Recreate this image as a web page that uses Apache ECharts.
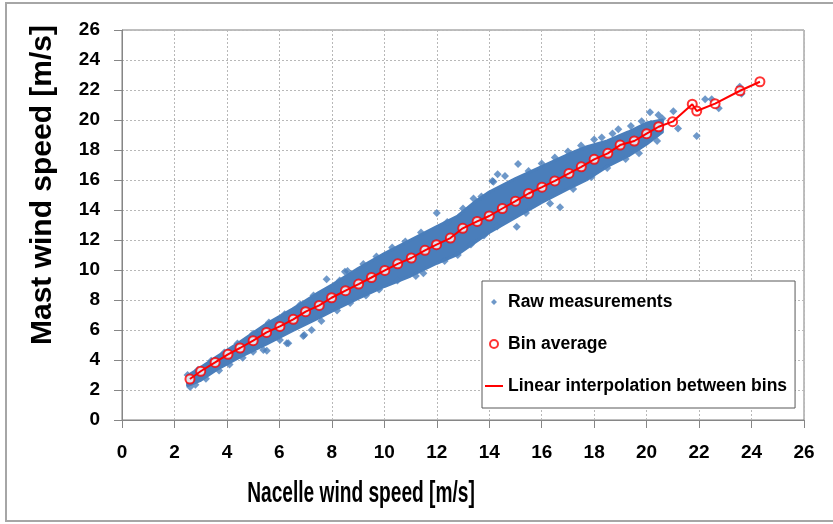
<!DOCTYPE html>
<html>
<head>
<meta charset="utf-8">
<script src="https://cdn.jsdelivr.net/npm/echarts@6/dist/echarts.min.js"></script>
<style>html,body{margin:0;padding:0;background:#fff}#c{width:833px;height:524px}</style>
</head>
<body>
<div id="c"></div>
<script>
// Axis ticks
const xTicks = [0,2,4,6,8,10,12,14,16,18,20,22,24,26];
const yTicks = [0,2,4,6,8,10,12,14,16,18,20,22,24,26];

// Bin averages (also the vertices of the linear interpolation)
const binX = [2.59,3.0,3.55,4.04,4.5,5.0,5.51,6.02,6.53,7.0,7.52,7.99,8.52,9.02,9.51,10.02,10.51,11.03,11.55,11.99,12.52,12.99,13.54,14.0,14.5,15.0,15.5,16.01,16.5,17.04,17.51,18.0,18.52,18.99,19.53,20.0,20.46,20.99,21.74,21.91,22.61,23.56,24.32];
const binY = [2.73,3.25,3.84,4.38,4.8,5.29,5.84,6.24,6.71,7.22,7.64,8.15,8.62,9.06,9.5,9.97,10.41,10.8,11.31,11.69,12.13,12.78,13.24,13.6,14.1,14.59,15.1,15.52,15.94,16.44,16.88,17.38,17.78,18.33,18.6,19.09,19.55,19.89,21.05,20.6,21.09,21.95,22.55];

const cloudX     = [2.5, 3.0, 3.6, 4.5, 5.5, 6.5, 7.5, 8.0, 9.0, 10.0, 11.0, 12.0, 12.8, 13.5, 14.0, 15.0, 16.0, 17.0, 17.7, 18.5, 19.3, 20.0, 20.6];
const cloudUpper = [2.95,3.5, 4.2, 5.2, 6.4, 7.4, 8.5, 9.0, 10.1,11.1,12.0,12.9,13.6,14.6,15.2,16.1,16.9,17.7,18.2,18.6,19.2,19.8,20.0];
const cloudLower = [2.3, 2.65,3.35,4.2, 5.05,5.95,6.8, 7.25,8.1, 8.9, 9.6, 10.45,11.05,11.9,12.5,13.5,14.5,15.4,16.0,16.9,17.6,18.4,19.2];

// Individual raw measurements at the fringe of the cloud
const rawX = [2.6,2.8,3.2,3.7,4.1,4.6,5.0,5.39,5.52,6.02,6.28,6.34,6.91,6.95,7.23,7.6,8.2,8.7,9.3,9.8,10.5,11.2,11.49,12.3,12.8,13.3,13.8,14.3,15.05,15.4,16.32,16.7,17.2,17.9,18.5,19.2,19.71,20.4,21.2,21.91,
  2.5,2.9,3.4,3.9,4.4,5.0,5.6,6.2,6.8,7.3,7.8,8.3,8.5,8.6,9.2,9.7,10.3,10.8,11.4,12.0,12.4,13.0,13.4,13.7,14.12,14.16,14.32,14.6,15.1,15.5,16.0,16.5,17.0,17.5,18.0,18.29,18.7,18.92,19.4,19.81,20.13,20.45,20.6,21.02,22.23,22.48,22.75,23.55,23.62];
const rawY = [2.2,2.35,2.75,3.3,3.7,4.15,4.55,4.67,4.62,5.33,5.11,5.11,5.6,5.67,6.0,6.6,7.3,7.8,8.3,8.7,9.3,9.6,9.78,10.6,11.0,11.7,12.3,12.9,12.89,13.8,14.44,14.18,15.4,16.2,16.8,17.4,17.78,18.6,19.44,18.93,
  3.0,3.35,3.95,4.5,5.1,5.75,6.5,7.05,7.7,8.3,9.38,9.3,9.89,9.93,10.4,10.9,11.5,11.9,12.5,13.8,13.2,14.1,14.77,14.9,15.93,15.89,16.38,16.27,17.06,16.6,17.1,17.5,17.9,18.3,18.7,18.84,19.1,19.39,19.6,19.91,20.51,20.33,20.1,20.58,21.38,21.38,20.78,22.22,21.75];

const blue = '#4a7ebb';
const red = '#ff0000';
const font = "'Liberation Sans', Arial, sans-serif";

const chart = echarts.init(document.getElementById('c'), null, {renderer: 'canvas'});

const rawData = rawX.map((x, i) => [x, rawY[i]]);
const binData = binX.map((x, i) => [x, binY[i]]);
const cloudData = cloudX.map((x, i) => [x, cloudUpper[i], cloudLower[i]]);

chart.setOption({
  animation: false,
  backgroundColor: '#fff',
  graphic: [
    {type: 'rect', z: -10, silent: true, shape: {x: 6, y: 3, width: 840, height: 518},
     style: {fill: 'none', stroke: '#a6a6a6', lineWidth: 2}},
    {type: 'text', x: 43, y: 185, rotation: Math.PI / 2, silent: true,
     style: {text: 'Mast wind speed [m/s]', fill: '#000', font: "bold 30px " + font,
             textAlign: 'center', textVerticalAlign: 'middle'}},
    {type: 'text', x: 361, y: 494, scaleX: 0.66, silent: true,
     style: {text: 'Nacelle wind speed [m/s]', fill: '#000', font: "bold 29px " + font,
             textAlign: 'center', textVerticalAlign: 'middle'}}
  ],
  grid: {left: 122, right: 29, top: 30, bottom: 104, show: true, borderColor: '#7f7f7f', borderWidth: 1, backgroundColor: 'transparent'},
  legend: {
    orient: 'vertical', left: 482, top: 281,
    padding: [11, 8, 12, 2],
    itemWidth: 18, itemHeight: 8, itemGap: 22,
    backgroundColor: '#fff', borderColor: '#595959', borderWidth: 1,
    textStyle: {fontFamily: font, fontWeight: 'bold', fontSize: 17.5, color: '#000', lineHeight: 20},
    data: [
      {name: 'Raw measurements', icon: 'path://M0,4L0,4.01M18,4L18,4.01M0,0L0,0.01M18,8L18,8.01M9,1L12,4L9,7L6,4Z'},
      {name: 'Bin average'},
      {name: 'Linear interpolation between bins'}
    ]
  },
  xAxis: {
    type: 'value', min: 0, max: 26, interval: 2,
    axisLine: {show: true, lineStyle: {color: '#868686', width: 1}},
    axisTick: {show: true, length: 8, lineStyle: {color: '#868686'}},
    axisLabel: {margin: 23, color: '#000', fontWeight: 'bold', fontSize: 19, fontFamily: font,
                formatter: v => xTicks.includes(v) ? String(v) : ''},
    splitLine: {show: true, lineStyle: {color: '#b8b8b8', type: [2, 2], width: 1}}
  },
  yAxis: {
    type: 'value', min: 0, max: 26, interval: 2,
    axisLine: {show: true, lineStyle: {color: '#868686', width: 1}},
    axisTick: {show: true, length: 8, lineStyle: {color: '#868686'}},
    axisLabel: {margin: 22, color: '#000', fontWeight: 'bold', fontSize: 19, fontFamily: font,
                formatter: v => yTicks.includes(v) ? String(v) : ''},
    splitLine: {show: true, lineStyle: {color: '#b8b8b8', type: [2, 2], width: 1}}
  },
  series: [
    {
      name: 'Raw measurements', type: 'scatter', data: rawData,
      symbol: 'diamond', symbolSize: 8, symbolKeepAspect: true,
      itemStyle: {color: blue}, z: 3
    },
    {
      name: 'Raw measurements', type: 'custom', data: cloudData, z: 2,
      encode: {x: 0, y: [1, 2]},
      renderItem: function (params, api) {
        if (params.dataIndex !== 0) return null;
        const pts = [];
        for (let i = 0; i < cloudX.length; i++) pts.push(api.coord([cloudX[i], cloudUpper[i]]));
        for (let i = cloudX.length - 1; i >= 0; i--) pts.push(api.coord([cloudX[i], cloudLower[i]]));
        return {type: 'polygon', shape: {points: pts}, style: {fill: blue, stroke: blue, lineWidth: 3, lineJoin: 'round'}};
      }
    },
    {
      name: 'Bin average', type: 'scatter', data: binData,
      symbol: 'emptyCircle', symbolSize: 9,
      itemStyle: {color: red, borderColor: red, borderWidth: 2.5}, z: 4
    },
    {
      name: 'Linear interpolation between bins', type: 'line', data: binData,
      symbol: 'none', lineStyle: {color: red, width: 2}, itemStyle: {color: 'rgba(255,0,0,0)'}, z: 5
    }
  ]
});
</script>
</body>
</html>
